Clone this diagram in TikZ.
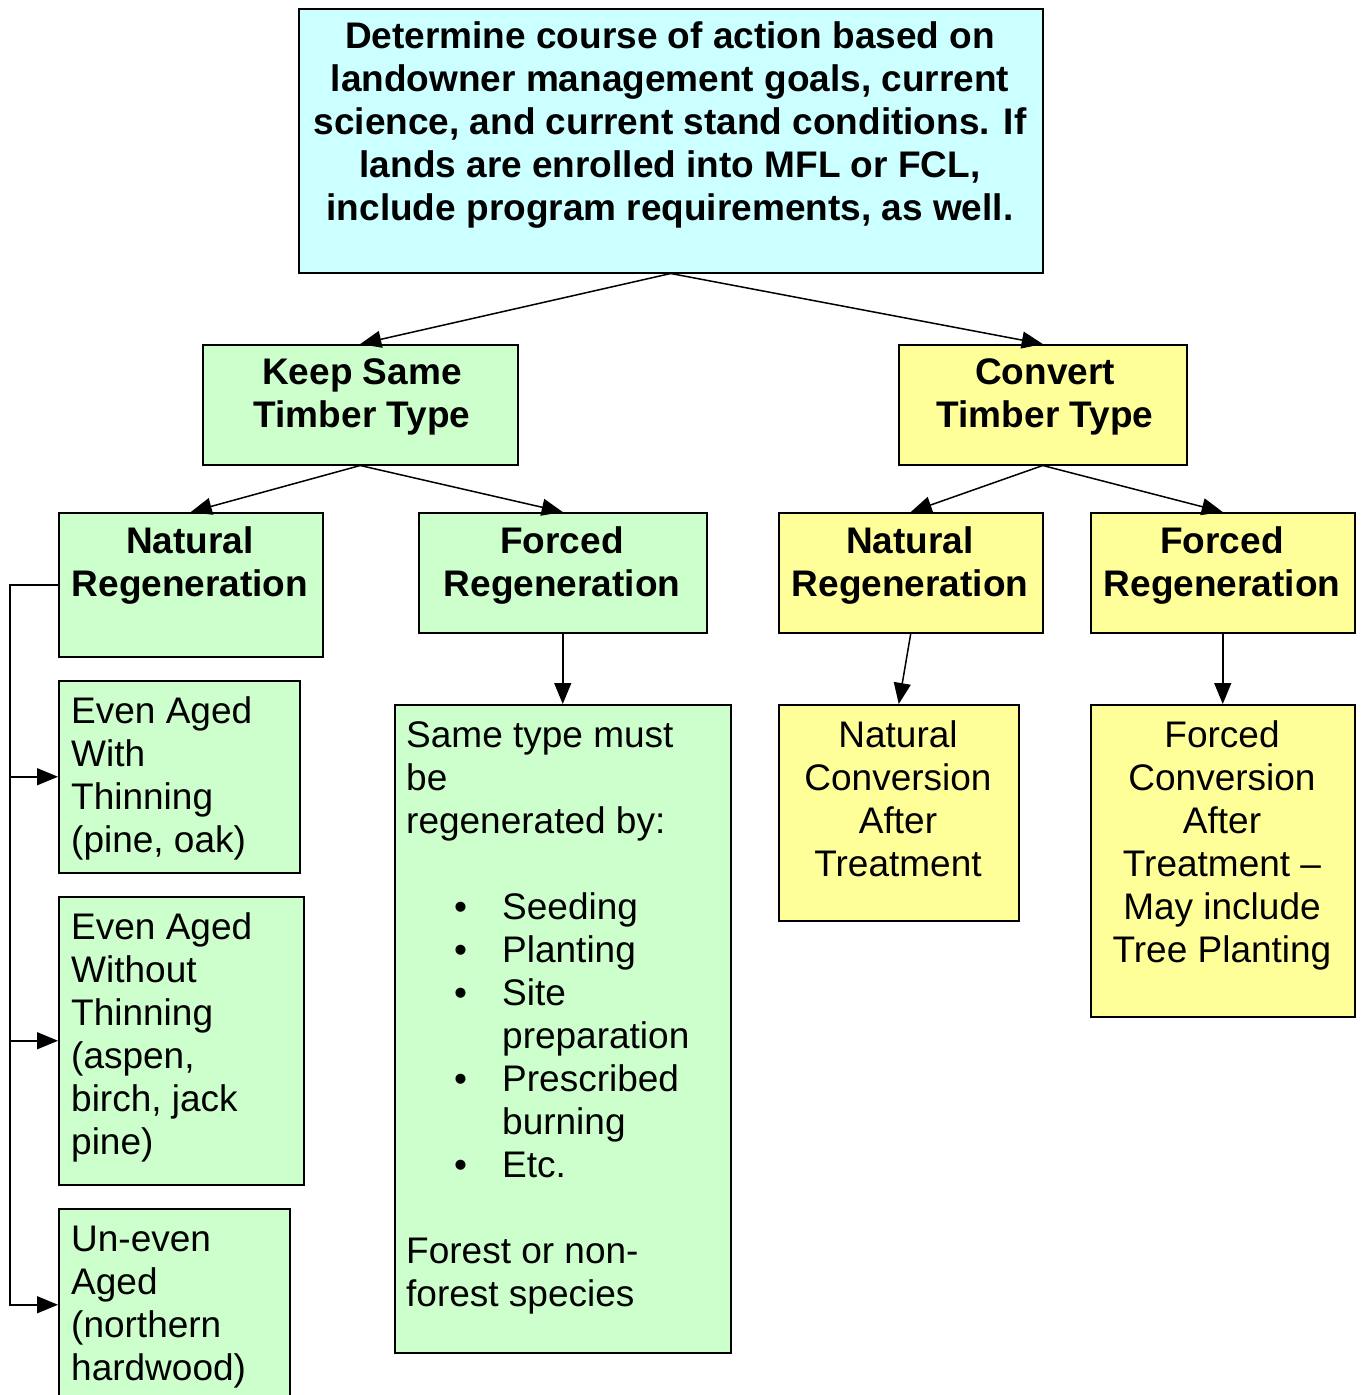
\documentclass[tikz,border=0pt]{standalone}
\usepackage{fontspec}
\setmainfont{Liberation Sans}
\usetikzlibrary{arrows.meta}
\definecolor{cy}{HTML}{CCFFFF}
\definecolor{gr}{HTML}{CCFFCC}
\definecolor{ye}{HTML}{FFFF99}
\newcommand\ctxt[2]{\parbox[t]{#1}{\centering\fontsize{37pt}{43pt}\selectfont #2}}
\newcommand\ltxt[2]{\parbox[t]{#1}{\raggedright\fontsize{37pt}{43pt}\selectfont #2}}
\newcommand\bul[1]{\hspace*{48pt}\makebox[48pt][l]{•}#1}
\tikzset{
  bx/.style={draw=black, line width=1.5pt, anchor=north west, inner sep=0pt},
  ct/.style={anchor=base, inner sep=0pt},
  lt/.style={anchor=base west, inner sep=0pt},
  arr/.style={line width=1.5pt, -{Triangle[length=21pt,width=17pt]}},
  ln/.style={line width=1.5pt}
}
\begin{document}
\begin{tikzpicture}[x=1pt,y=-1pt]
\useasboundingbox (0,0) rectangle (1363,1395);
\clip (0,0) rectangle (1363,1395);
% boxes
\node[bx, fill=cy, minimum width=744pt, minimum height=264pt] (top) at (298,8) {};
\node[bx, fill=gr, minimum width=315pt, minimum height=120pt] (keep) at (202,344) {};
\node[bx, fill=ye, minimum width=288pt, minimum height=120pt] (conv) at (898,344) {};
\node[bx, fill=gr, minimum width=264pt, minimum height=144pt] (natL) at (58,512) {};
\node[bx, fill=gr, minimum width=288pt, minimum height=120pt] (forL) at (418,512) {};
\node[bx, fill=ye, minimum width=264pt, minimum height=120pt] (natR) at (778,512) {};
\node[bx, fill=ye, minimum width=264pt, minimum height=120pt] (forR) at (1090,512) {};
\node[bx, fill=gr, minimum width=241pt, minimum height=192pt] (ev1) at (58,680) {};
\node[bx, fill=gr, minimum width=245pt, minimum height=288pt] (ev2) at (58,896) {};
\node[bx, fill=gr, minimum width=231pt, minimum height=192pt] (ev3) at (58,1208) {};
\node[bx, fill=gr, minimum width=336pt, minimum height=648pt] (same) at (394,704) {};
\node[bx, fill=ye, minimum width=240pt, minimum height=216pt] (nconv) at (778,704) {};
\node[bx, fill=ye, minimum width=264pt, minimum height=312pt] (fconv) at (1090,704) {};
% texts
\node[ct] (tTop) at (670,48) {\ctxt{740pt}{\bfseries Determine course of action based on\\landowner management goals, current\\science, and current stand conditions. If\\lands are enrolled into MFL or FCL,\\include program requirements, as well.}};
\node[ct] (tKeep) at (362,384) {\ctxt{310pt}{\bfseries Keep Same\\Timber Type}};
\node[ct] (tConv) at (1045,384) {\ctxt{284pt}{\bfseries Convert\\Timber Type}};
\node[ct] (tNatL) at (190,553) {\ctxt{262pt}{\bfseries Natural\\Regeneration}};
\node[ct] (tForL) at (562,553) {\ctxt{286pt}{\bfseries Forced\\Regeneration}};
\node[ct] (tNatR) at (910,553) {\ctxt{262pt}{\bfseries Natural\\Regeneration}};
\node[ct] (tForR) at (1222,553) {\ctxt{262pt}{\bfseries Forced\\Regeneration}};
\node[lt] (tEv1) at (71,723) {\ltxt{225pt}{Even Aged\\With\\Thinning\\(pine, oak)}};
\node[lt] (tEv2) at (71,939) {\ltxt{230pt}{Even Aged\\Without\\Thinning\\(aspen,\\birch, jack\\pine)}};
\node[lt] (tEv3) at (71,1251) {\ltxt{215pt}{Un-even\\Aged\\(northern\\hardwood)}};
\node[lt] (tSame) at (406,747) {\ltxt{320pt}{Same type must\\be\\regenerated by:\\\mbox{}\\\bul{Seeding}\\\bul{Planting}\\\bul{Site}\\\hspace*{96pt}preparation\\\bul{Prescribed}\\\hspace*{96pt}burning\\\bul{Etc.}\\\mbox{}\\Forest or non-\\forest species}};
\node[ct] (tNconv) at (898,747) {\ctxt{236pt}{Natural\\Conversion\\After\\Treatment}};
\node[ct] (tFconv) at (1222,747) {\ctxt{262pt}{Forced\\Conversion\\After\\Treatment –\\May include\\Tree Planting}};
% connectors
\draw[arr] (top.south) -- (keep.north);
\draw[arr] (top.south) -- (conv.north);
\draw[arr] (keep.south) -- (natL.north);
\draw[arr] (keep.south) -- (forL.north);
\draw[arr] (conv.south) -- (natR.north);
\draw[arr] (conv.south) -- (forR.north);
\draw[arr] (forL.south) -- (same.north);
\draw[arr] (natR.south) -- (nconv.north);
\draw[arr] (forR.south) -- (fconv.north);
\draw[arr] (natL.west) -- ++(-48,0) |- (ev1.west);
\draw[arr] (natL.west) -- ++(-48,0) |- (ev2.west);
\draw[arr] (natL.west) -- ++(-48,0) |- (ev3.west);
\end{tikzpicture}
\end{document}
